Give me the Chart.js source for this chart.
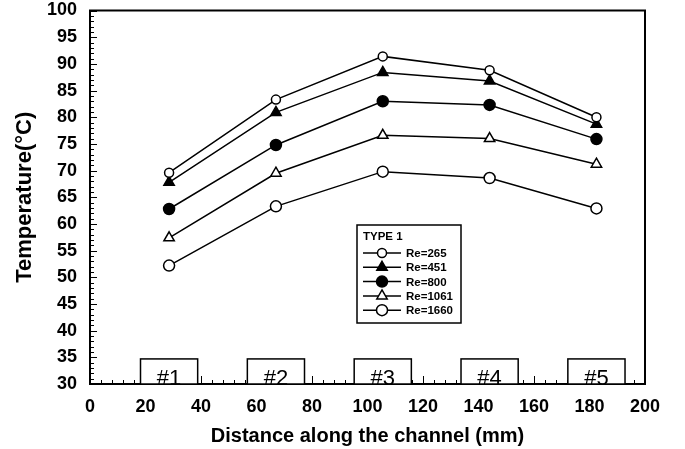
<!DOCTYPE html>
<html>
<head>
<meta charset="utf-8">
<script src="https://cdn.jsdelivr.net/npm/chart.js@4/dist/chart.umd.min.js"></script>
<style>
  html, body { margin: 0; padding: 0; background: #fff; }
  #wrap { width: 685px; height: 449px; }
</style>
</head>
<body>
<div id="wrap"><canvas id="tempChart" width="685" height="449"></canvas></div>
<script>
// distance along the channel (mm) of thermocouples #1..#5
const distance = [28.5, 67, 105.5, 144, 182.5];
const stations = ['#1', '#2', '#3', '#4', '#5'];

const re265 = [69.6, 83.3, 91.4, 88.8, 80.0];
const re451 = [67.8, 80.9, 88.4, 86.8, 78.7];
const re800 = [62.8, 74.8, 83.0, 82.3, 75.9];
const re1061 = [57.4, 69.5, 76.6, 76.0, 71.2];
const re1660 = [52.2, 63.3, 69.8, 68.6, 62.9];

const seriesNames = ['Re=265', 'Re=451', 'Re=800', 'Re=1061', 'Re=1660'];
const legendTitle = 'TYPE 1';

const FONT = '"Liberation Sans", Arial, Helvetica, sans-serif';

function makeSet(name, vals, style, radius, filled) {
    return {
        label: name,
        data: distance.map((x, i) => ({ x: x, y: vals[i] })),
        borderColor: '#000',
        borderWidth: 1.5,
        pointStyle: style,
        pointRadius: radius,
        pointBorderWidth: 1.5,
        pointBorderColor: '#000',
        pointBackgroundColor: filled ? '#000' : '#fff',
        tension: 0
    };
}

// inward ticks + frame
const frameTicks = {
    id: 'frameTicks',
    afterDatasetsDraw(chart) {
        const ctx = chart.ctx;
        const a = chart.chartArea;
        const xs = chart.scales.x, ys = chart.scales.y;
        ctx.save();
        ctx.strokeStyle = '#000';
        ctx.lineWidth = 1;
        for (let v = 30; v <= 100; v += 1) {
            const y = Math.round(ys.getPixelForValue(v)) + 0.5;
            const len = v % 5 === 0 ? 7 : 4;
            ctx.beginPath();
            ctx.moveTo(a.left, y);
            ctx.lineTo(a.left + len, y);
            ctx.stroke();
        }
        for (let v = 0; v <= 200; v += 4) {
            const x = Math.round(xs.getPixelForValue(v)) + 0.5;
            const len = v % 20 === 0 ? 8 : 4;
            ctx.beginPath();
            ctx.moveTo(x, a.bottom);
            ctx.lineTo(x, a.bottom - len);
            ctx.stroke();
        }
        ctx.lineWidth = 2;
        ctx.strokeRect(a.left, a.top, a.right - a.left, a.bottom - a.top);
        ctx.restore();
    }
};

// station boxes #1..#5 sitting on the x axis
const stationBoxes = {
    id: 'stationBoxes',
    afterDatasetsDraw(chart) {
        const ctx = chart.ctx;
        const xs = chart.scales.x, ys = chart.scales.y;
        ctx.save();
        ctx.strokeStyle = '#000';
        ctx.lineWidth = 1.5;
        ctx.font = '22px ' + FONT;
        ctx.textAlign = 'center';
        ctx.textBaseline = 'alphabetic';
        distance.forEach((d, i) => {
            const x1 = xs.getPixelForValue(d - 10.3);
            const x2 = xs.getPixelForValue(d + 10.3);
            const y1 = ys.getPixelForValue(34.7);
            const y2 = ys.getPixelForValue(30);
            ctx.fillStyle = '#fff';
            ctx.fillRect(x1, y1, x2 - x1, y2 - y1);
            ctx.strokeRect(x1, y1, x2 - x1, y2 - y1);
            ctx.fillStyle = '#000';
            ctx.fillText(stations[i], (x1 + x2) / 2, y2 + 1);
        });
        ctx.restore();
    }
};

// boxed legend inside the plot
const boxLegend = {
    id: 'boxLegend',
    afterDatasetsDraw(chart) {
        const ctx = chart.ctx;
        const left = 357, top = 225, w = 104, h = 98;
        ctx.save();
        ctx.fillStyle = '#fff';
        ctx.fillRect(left, top, w, h);
        ctx.strokeStyle = '#000';
        ctx.lineWidth = 1.5;
        ctx.strokeRect(left, top, w, h);
        ctx.fillStyle = '#000';
        ctx.font = 'bold 11.5px ' + FONT;
        ctx.textBaseline = 'middle';
        ctx.textAlign = 'left';
        ctx.fillText(legendTitle, left + 6, top + 12);
        chart.data.datasets.forEach((ds, i) => {
            const y = top + 28 + i * 14.3;
            ctx.strokeStyle = '#000';
            ctx.lineWidth = 1.5;
            ctx.beginPath();
            ctx.moveTo(left + 6, y);
            ctx.lineTo(left + 44, y);
            ctx.stroke();
            ctx.fillStyle = ds.pointBackgroundColor;
            Chart.helpers.drawPoint(ctx, {
                pointStyle: ds.pointStyle,
                radius: ds.pointRadius,
                borderWidth: ds.pointBorderWidth,
                rotation: 0
            }, left + 25, y);
            ctx.fillStyle = '#000';
            ctx.fillText(ds.label, left + 49, y + 1);
        });
        ctx.restore();
    }
};

const ctx = document.getElementById('tempChart').getContext('2d');
const tempChart = new Chart(ctx, {
    type: 'line',
    data: {
        datasets: [
            makeSet(seriesNames[0], re265, 'circle', 4.5, false),
            makeSet(seriesNames[1], re451, 'triangle', 6, true),
            makeSet(seriesNames[2], re800, 'circle', 5.5, true),
            makeSet(seriesNames[3], re1061, 'triangle', 6, false),
            makeSet(seriesNames[4], re1660, 'circle', 5.5, false)
        ]
    },
    options: {
        responsive: false,
        animation: false,
        layout: { autoPadding: false, padding: { left: 0, right: 40, top: 10.5, bottom: 0 } },
        plugins: { legend: { display: false }, tooltip: { enabled: false } },
        scales: {
            x: {
                type: 'linear',
                min: 0,
                max: 200,
                grid: { display: false, drawTicks: false },
                border: { display: false },
                ticks: { stepSize: 20, color: '#000', padding: 12, font: { family: FONT, size: 18, weight: 'bold' } },
                title: {
                    display: true,
                    text: 'Distance along the channel (mm)',
                    color: '#000',
                    font: { family: FONT, size: 20, weight: 'bold' },
                    padding: { top: 0, bottom: 1 }
                },
                afterFit: s => { s.height = 65; s.paddingLeft = 0; s.paddingRight = 0; }
            },
            y: {
                min: 30,
                max: 100,
                grid: { display: false, drawTicks: false },
                border: { display: false },
                ticks: { stepSize: 5, color: '#000', padding: 13, font: { family: FONT, size: 18, weight: 'bold' } },
                title: {
                    display: true,
                    text: 'Temperature(°C)',
                    color: '#000',
                    font: { family: FONT, size: 22, weight: 'bold' },
                    padding: { top: 12, bottom: 0 }
                },
                afterFit: s => { s.width = 90; s.paddingTop = 0; s.paddingBottom = 0; }
            }
        }
    },
    plugins: [frameTicks, stationBoxes, boxLegend]
});
</script>
</body>
</html>
